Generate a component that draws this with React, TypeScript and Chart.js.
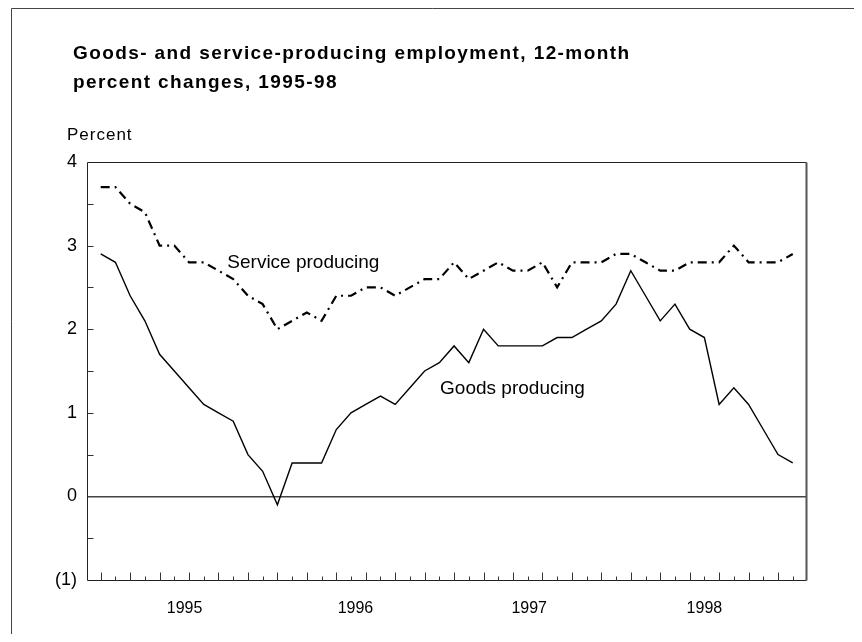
import React, { useEffect, useRef } from "react";
import { Chart, registerables } from "chart.js";

Chart.register(...registerables);

const FONT = '"Liberation Sans", Arial, Helvetica, sans-serif';

// Categories: monthly, Jan 1995 – Dec 1998
const years = ["1995", "1996", "1997", "1998"];
const monthNames = ["Jan", "Feb", "Mar", "Apr", "May", "Jun", "Jul", "Aug", "Sep", "Oct", "Nov", "Dec"];
const months = years.flatMap((y) => monthNames.map((m) => `${m} ${y}`));

// 12-month percent changes
const goodsProducing = [
  2.9, 2.8, 2.4, 2.1, 1.7, 1.5, 1.3, 1.1, 1.0, 0.9, 0.5, 0.3,
  -0.1, 0.4, 0.4, 0.4, 0.8, 1.0, 1.1, 1.2, 1.1, 1.3, 1.5, 1.6,
  1.8, 1.6, 2.0, 1.8, 1.8, 1.8, 1.8, 1.9, 1.9, 2.0, 2.1, 2.3,
  2.7, 2.4, 2.1, 2.3, 2.0, 1.9, 1.1, 1.3, 1.1, 0.8, 0.5, 0.4,
];
const serviceProducing = [
  3.7, 3.7, 3.5, 3.4, 3.0, 3.0, 2.8, 2.8, 2.7, 2.6, 2.4, 2.3,
  2.0, 2.1, 2.2, 2.1, 2.4, 2.4, 2.5, 2.5, 2.4, 2.5, 2.6, 2.6,
  2.8, 2.6, 2.7, 2.8, 2.7, 2.7, 2.8, 2.5, 2.8, 2.8, 2.8, 2.9,
  2.9, 2.8, 2.7, 2.7, 2.8, 2.8, 2.8, 3.0, 2.8, 2.8, 2.8, 2.9,
];

// Axis labels
const yTickValues = [-1, 0, 1, 2, 3, 4];
const yTickLabels = ["(1)", "0", "1", "2", "3", "4"];
const yearLabels = years;
const yearLabelPositions = [5.7, 17.3, 29.1, 41.0];

const titleLines = [
  "Goods- and service-producing employment, 12-month",
  "percent changes, 1995-98",
];
const yAxisTitle = "Percent";
const serviceLabel = { text: "Service producing", x: 8.6, y: 2.8 };
const goodsLabel = { text: "Goods producing", x: 23.05, y: 1.29 };

const decor = {
  id: "decor",
  afterDraw(chart: any) {
    const { ctx, chartArea: a, scales } = chart;
    const xs = scales.x;
    const ys = scales.y;
    ctx.save();

    // outer page border (top & left)
    ctx.strokeStyle = "#444";
    ctx.lineWidth = 1;
    ctx.beginPath();
    ctx.moveTo(3.5, chart.height);
    ctx.lineTo(3.5, 0.5);
    ctx.lineTo(chart.width, 0.5);
    ctx.stroke();

    // plot frame
    const L = Math.round(a.left) + 0.5;
    const T = Math.round(a.top) + 0.5;
    const R = Math.round(a.right) + 0.5;
    const B = Math.round(a.bottom) + 0.5;
    ctx.strokeStyle = "#222";
    ctx.lineWidth = 1;
    ctx.beginPath();
    ctx.moveTo(L, T);
    ctx.lineTo(R, T);
    ctx.moveTo(L, T);
    ctx.lineTo(L, B);
    ctx.lineTo(R, B);
    ctx.stroke();
    ctx.strokeStyle = "#555";
    ctx.lineWidth = 2;
    ctx.beginPath();
    ctx.moveTo(R, T);
    ctx.lineTo(R, B);
    ctx.stroke();

    // y ticks every half unit, inside the plot
    ctx.strokeStyle = "#333";
    ctx.lineWidth = 1;
    for (let k = 1; k < 10; k++) {
      const v = -1 + k * 0.5;
      if (v === 0) continue;
      const py = Math.round(ys.getPixelForValue(v)) + 0.5;
      ctx.beginPath();
      ctx.moveTo(L, py);
      ctx.lineTo(L + 6, py);
      ctx.stroke();
    }

    // x ticks: one per month, alternating long/short, inside the plot
    months.forEach((_, i) => {
      const px = Math.round(xs.getPixelForValue(i)) + 0.5;
      const len = i % 2 === 0 ? 8 : 4;
      ctx.beginPath();
      ctx.moveTo(px, B);
      ctx.lineTo(px, B - len);
      ctx.stroke();
    });

    // series annotations
    ctx.fillStyle = "#000";
    ctx.font = `19px ${FONT}`;
    ctx.textAlign = "left";
    ctx.textBaseline = "middle";
    ctx.fillText(serviceLabel.text, xs.getPixelForValue(serviceLabel.x), ys.getPixelForValue(serviceLabel.y));
    ctx.fillText(goodsLabel.text, xs.getPixelForValue(goodsLabel.x), ys.getPixelForValue(goodsLabel.y));

    // title
    ctx.textBaseline = "alphabetic";
    ctx.font = `bold 19px ${FONT}`;
    (ctx as any).letterSpacing = "1.4px";
    titleLines.forEach((t, k) => ctx.fillText(t, 65, 51 + k * 29));

    // y axis title
    ctx.font = `17px ${FONT}`;
    (ctx as any).letterSpacing = "1px";
    ctx.fillText(yAxisTitle, 59, 132);
    (ctx as any).letterSpacing = "0px";

    ctx.restore();
  },
};

export default function App() {
  const ref = useRef<HTMLCanvasElement | null>(null);

  useEffect(() => {
    if (!ref.current) return;
    const chart = new Chart(ref.current, {
      type: "line",
      data: {
        labels: months,
        datasets: [
          {
            label: "Service producing",
            data: serviceProducing.map((v, i) => ({ x: i, y: v })),
            borderColor: "#000",
            borderWidth: 2.2,
            borderDash: [9, 5, 2, 5],
            pointRadius: 0,
            tension: 0,
            fill: false,
          },
          {
            label: "Goods producing",
            data: goodsProducing.map((v, i) => ({ x: i, y: v })),
            borderColor: "#000",
            borderWidth: 1.4,
            pointRadius: 0,
            tension: 0,
            fill: false,
          },
        ],
      },
      options: {
        animation: false,
        responsive: false,
        maintainAspectRatio: false,
        layout: { padding: { top: 154, right: 48, left: 0, bottom: 0 } },
        plugins: {
          legend: { display: false },
          tooltip: { enabled: false },
          title: { display: false },
        },
        scales: {
          x: {
            type: "linear",
            min: -0.93,
            max: 47.9,
            display: false,
          },
          years: {
            type: "linear",
            axis: "x",
            position: "bottom",
            min: -0.93,
            max: 47.9,
            grid: { display: false, drawTicks: false },
            border: { display: false },
            ticks: {
              autoSkip: false,
              maxRotation: 0,
              padding: 19,
              color: "#000",
              font: { size: 16, family: FONT },
              callback: (v: any) => {
                const idx = yearLabelPositions.indexOf(Number(v));
                return idx >= 0 ? yearLabels[idx] : "";
              },
            },
            afterBuildTicks: (s: any) => {
              s.ticks = yearLabelPositions.map((v) => ({ value: v }));
            },
            afterFit: (s: any) => {
              s.height = 54;
            },
          } as any,
          y: {
            type: "linear",
            min: -1,
            max: 4,
            afterBuildTicks: (s: any) => {
              s.ticks = yTickValues.map((v) => ({ value: v }));
            },
            ticks: {
              padding: 10,
              color: "#000",
              font: { size: 18, family: FONT },
              callback: (v: any) => {
                const idx = yTickValues.indexOf(Number(v));
                return idx >= 0 ? yTickLabels[idx] : "";
              },
            },
            grid: {
              drawTicks: false,
              color: (c: any) => (c.tick && c.tick.value === 0 ? "#444" : "rgba(0,0,0,0)"),
              lineWidth: 1.6,
            },
            border: { display: false },
            afterFit: (s: any) => {
              s.width = 79;
            },
          },
        },
      },
      plugins: [decor],
    });
    return () => chart.destroy();
  }, []);

  return <canvas ref={ref} width={846} height={626} style={{ display: "block" }} />;
}
